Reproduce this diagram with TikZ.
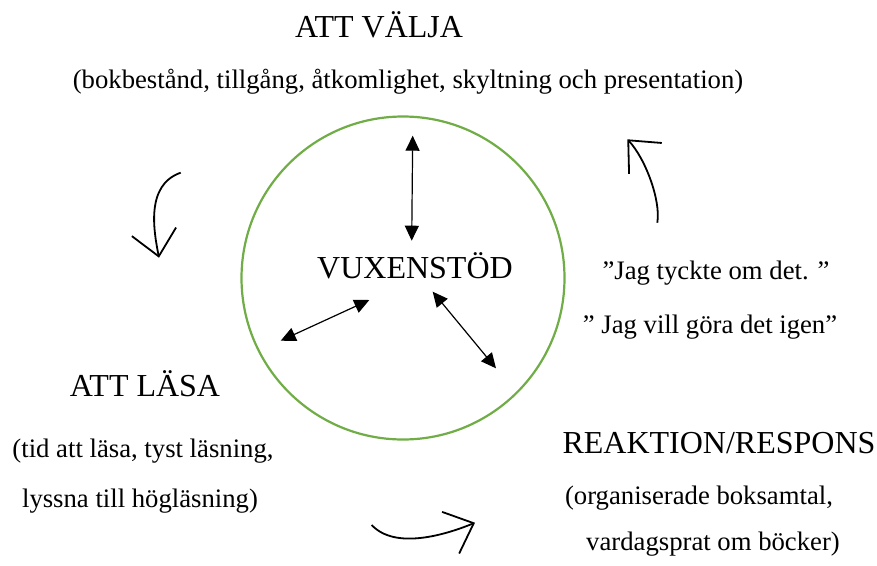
\documentclass[tikz,border=0pt]{standalone}
\usepackage{fontspec}
\setmainfont{Liberation Serif}
\usetikzlibrary{arrows.meta}
\definecolor{ringgreen}{RGB}{112,173,71}

\begin{document}
\begin{tikzpicture}[x=1pt,y=-1pt,
    title/.style={anchor=base,inner sep=0pt,font=\fontsize{32}{38}\selectfont},
    note/.style={anchor=base,inner sep=0pt,font=\fontsize{26.7}{32}\selectfont},
    link/.style={{Triangle[length=15pt,width=14pt]}-{Triangle[length=15pt,width=14pt]},line width=1.2pt},
    turn/.style={-{Straight Barb[length=25pt,width=45pt]},line width=1.8pt}]
  \useasboundingbox (0,0) rectangle (877,565);
  % ring with the hub in the middle
  \node[circle,draw=ringgreen,line width=2.2pt,minimum size=323pt] (ring) at (403,278) {};
  \node[title] (hub) at (415,278) {VUXENSTÖD};
  % the three stages
  \node[title] (choose) at (379,37) {ATT VÄLJA};
  \node[note] (choose1) at (408,88) {(bokbestånd, tillgång, åtkomlighet, skyltning och presentation)};
  \node[title] (read) at (145,396) {ATT LÄSA};
  \node[note] (read1) at (143,457) {(tid att läsa, tyst läsning,};
  \node[note] (read2) at (140,507) {lyssna till högläsning)};
  \node[title] (react) at (719,453) {REAKTION/RESPONS};
  \node[note] (react1) at (699,504) {(organiserade boksamtal,};
  \node[note] (react2) at (713,550) {vardagsprat om böcker)};
  \node[note] (say1) at (716,279) {”Jag tyckte om det. ”};
  \node[note] (say2) at (710,333) {” Jag vill göra det igen”};
  % arrow ends inside the ring
  \coordinate (up1) at (412.7,135.7);
  \coordinate (up2) at (411.7,240.7);
  \coordinate (lf1) at (280.7,340.7);
  \coordinate (lf2) at (369.3,300);
  \coordinate (rt1) at (432.7,291.7);
  \coordinate (rt2) at (496,368.3);
  \draw[link] (up1) -- (up2);
  \draw[link] (lf1) -- (lf2);
  \draw[link] (rt1) -- (rt2);
  % the turning arrows between the stages
  \coordinate (tl1) at (180.7,172.7);
  \coordinate (tl2) at (159,257.7);
  \coordinate (bm1) at (371.7,525);
  \coordinate (bm2) at (475,522.7);
  \coordinate (tr1) at (657.3,222.7);
  \coordinate (tr2) at (627.3,139.3);
  \draw[turn] (tl1) .. controls (145,185) and (154,232) .. (tl2);
  \draw[turn] (bm1) .. controls (395,550) and (445,535) .. (bm2);
  \draw[turn] (tr1) .. controls (661,200) and (645,158) .. (tr2);
\end{tikzpicture}
\end{document}
